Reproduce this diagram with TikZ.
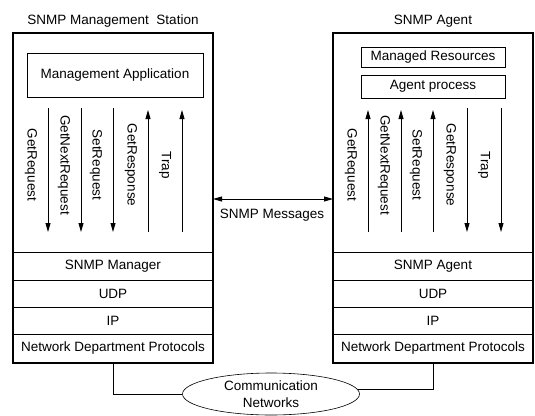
\documentclass[tikz,border=0pt]{standalone}
\usepackage{fontspec}
\setmainfont{Liberation Sans}
\usetikzlibrary{shapes.geometric, arrows.meta, positioning}

\begin{document}
\begin{tikzpicture}[
    x=1pt, y=-1pt,
    font=\fontsize{13.5}{17}\selectfont,
    station/.style={draw, line width=1.6pt, minimum width=200pt, minimum height=330pt, inner sep=0pt, outer sep=0pt},
    stackbox/.style={draw, line width=0.8pt, minimum width=200pt, minimum height=#1, inner sep=0pt, outer sep=0pt},
    appbox/.style={draw, line width=0.8pt, inner sep=0pt, outer sep=0pt},
    boxtitle/.style={inner sep=3pt},
    prim/.style={rotate=-90, inner sep=1pt},
    msg/.style={line width=0.8pt, -{Triangle[length=9pt, width=5pt]}},
    msgboth/.style={line width=0.8pt, {Triangle[length=9pt, width=5pt]}-{Triangle[length=9pt, width=5pt]}},
    wire/.style={line width=0.6pt}
  ]
  \useasboundingbox (0,0) rectangle (535,415);

  % manager side
  \node (mgr) [station] at (113,198) {};
  \node (mgrttl) [boxtitle, above=2pt of mgr] {SNMP Management\ \ Station};
  \node (mgrapp) [appbox, minimum width=176pt, minimum height=44pt, below=20pt of mgr.north, xshift=2pt] {Management Application};
  \node (mgrndp) [stackbox=29pt, above=0pt of mgr.south] {Network Department Protocols};
  \node (mgrip) [stackbox=27pt, above=0pt of mgrndp] {IP};
  \node (mgrudp) [stackbox=27pt, above=0pt of mgrip] {UDP};
  \node (mgrsnmp) [stackbox=28pt, above=0pt of mgrudp] {SNMP Manager};

  % agent side
  \node (agt) [station] at (433,198) {};
  \node (agtttl) [boxtitle, above=2pt of agt] {SNMP Agent};
  \node (agtres) [appbox, minimum width=144pt, minimum height=20pt, below=14pt of agt.north] {Managed Resources};
  \node (agtproc) [appbox, minimum width=144pt, minimum height=23pt, below=8pt of agtres] {Agent process};
  \node (agtndp) [stackbox=29pt, above=0pt of agt.south] {Network Department Protocols};
  \node (agtip) [stackbox=27pt, above=0pt of agtndp] {IP};
  \node (agtudp) [stackbox=27pt, above=0pt of agtip] {UDP};
  \node (agtsnmp) [stackbox=28pt, above=0pt of agtudp] {SNMP Agent};

  % protocol operations
  \foreach \x/\ya/\yb/\lbl [count=\i] in {48/108/232/GetRequest, 81/108/232/GetNextRequest, 113/108/232/SetRequest, 148/232/110/GetResponse, 182/232/110/Trap} {
    \coordinate (mgrs\i) at (\x,\ya);
    \coordinate (mgre\i) at (\x,\yb);
    \draw[msg] (mgrs\i) -- (mgre\i);
    \node (mgrl\i) [prim] at (\x-17,165) {\lbl};
  }
  \foreach \x/\ya/\yb/\lbl [count=\i] in {368/232/110/GetRequest, 401/232/110/GetNextRequest, 433/232/110/SetRequest, 467/108/232/GetResponse, 501/108/232/Trap} {
    \coordinate (agts\i) at (\x,\ya);
    \coordinate (agte\i) at (\x,\yb);
    \draw[msg] (agts\i) -- (agte\i);
    \node (agtl\i) [prim] at (\x-17,165) {\lbl};
  }

  % messages between the two
  \coordinate (msg) at (272,199);
  \draw[msgboth] (msg -| mgr.east) -- (msg -| agt.west);
  \node (msglbl) at (272,215) {SNMP Messages};

  % network
  \node (net) [ellipse, draw, line width=0.6pt, minimum width=177pt, minimum height=42pt, inner sep=0pt, align=center] at (271,394) {Communication\\Networks};
  \draw[wire] (mgr.south) |- (net.west);
  \draw[wire] (agt.south) |- (net.3);
\end{tikzpicture}
\end{document}
